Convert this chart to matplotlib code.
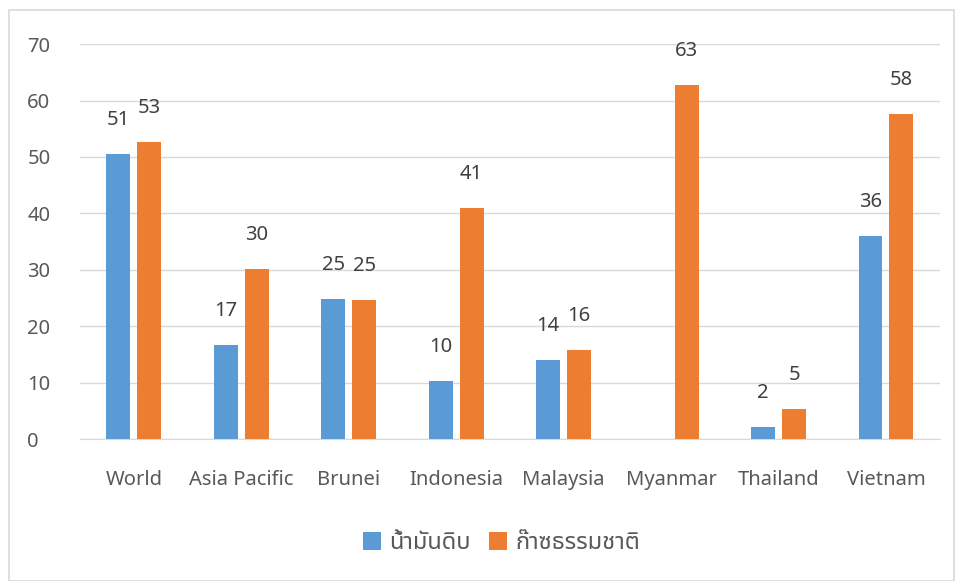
import matplotlib
matplotlib.use("Agg")
import matplotlib.pyplot as plt
import numpy as np
from matplotlib import font_manager

# data
categories = ["World", "Asia Pacific", "Brunei", "Indonesia", "Malaysia",
              "Myanmar", "Thailand", "Vietnam"]
crude_oil = [50.6, 16.6, 24.8, 10.3, 14.0, np.nan, 2.1, 36.0]
natural_gas = [52.6, 30.1, 24.6, 40.9, 15.8, 62.7, 5.3, 57.6]
series_names = ["น้ำมันดิบ", "ก๊าซธรรมชาติ"]
yticks = [0, 10, 20, 30, 40, 50, 60, 70]

names = {f.name for f in font_manager.fontManager.ttflist}
thai = [f for f in ["Noto Sans Thai", "Loma", "Garuda", "Noto Sans"] if f in names]
plt.rcParams["font.family"] = thai + ["DejaVu Sans"]

fig = plt.figure(figsize=(9.55, 5.81), dpi=100)
ax = fig.add_axes([0.0838, 0.2444, 0.9002, 0.6796])

x = np.arange(len(categories))
w = 0.223
off = 0.144
b1 = ax.bar(x - off, crude_oil, w, color="#5b9bd5", label=series_names[0], zorder=3)
b2 = ax.bar(x + off, natural_gas, w, color="#ed7d31", label=series_names[1], zorder=3)

for bars, vals in [(b1, crude_oil), (b2, natural_gas)]:
    for r, v in zip(bars, vals):
        if np.isnan(v):
            continue
        ax.annotate(f"{v:.0f}", (r.get_x() + r.get_width() / 2, v),
                    xytext=(0, 24.5), textcoords="offset points",
                    ha="center", va="center", fontsize=14.5, color="#404040")

ax.set_xlim(-0.5, len(categories) - 0.5)
ax.set_ylim(0, 70)
ax.set_yticks(yticks)
ax.set_xticks(x)
ax.set_xticklabels(categories)
ax.tick_params(axis="both", length=0, labelsize=14.5, colors="#595959")
ax.tick_params(axis="x", pad=22)
ax.tick_params(axis="y", pad=38)
for lab in ax.get_yticklabels():
    lab.set_horizontalalignment("left")
ax.grid(axis="y", color="#d9d9d9", linewidth=1, zorder=0)
for s in ["top", "right", "left"]:
    ax.spines[s].set_visible(False)
ax.spines["bottom"].set_color("#d9d9d9")

leg = fig.legend(loc="center", bbox_to_anchor=(0.525, 0.065), ncol=2, frameon=False,
                 fontsize=17, handlelength=0.75, handleheight=0.75, columnspacing=0.8,
                 handletextpad=0.35)
for t in leg.get_texts():
    t.set_color("#595959")

# outer border
fig.patches.append(plt.Rectangle((0.009, 0.0), 0.99, 0.983, transform=fig.transFigure,
                                 fill=False, edgecolor="#d9d9d9", linewidth=1.2))

fig.savefig("out.png", dpi=100)
